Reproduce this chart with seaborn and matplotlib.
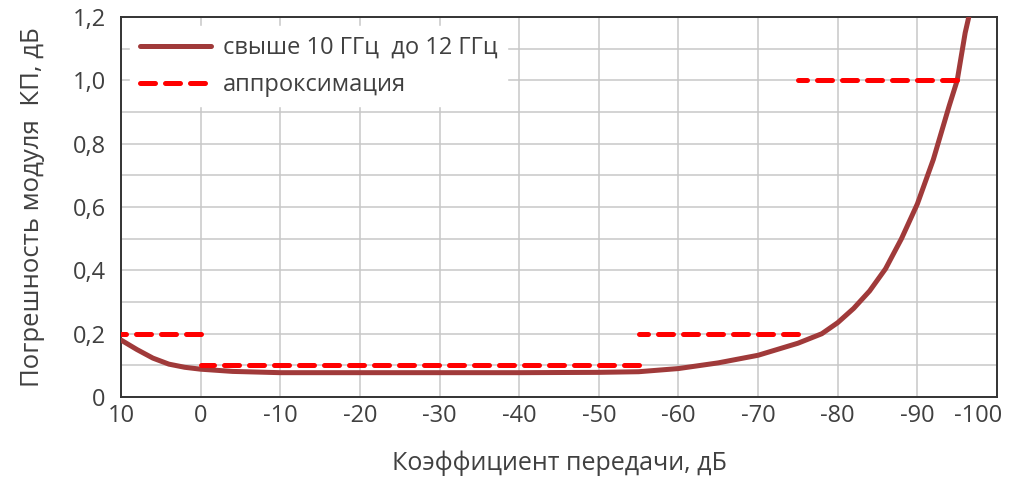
import matplotlib
matplotlib.use("Agg")
import matplotlib.pyplot as plt
import matplotlib.transforms as mtransforms
import seaborn as sns
import pandas as pd

# ----------------------- data -----------------------
GAIN_DB = [10, 8, 6, 4, 2, 0, -4, -10, -20, -30, -40, -50, -55, -60, -65, -70,
           -75, -78, -80, -82, -84, -86, -88, -90, -92, -94, -95, -96, -97]
ERROR_DB = [0.18, 0.15, 0.123, 0.104, 0.094, 0.088, 0.081, 0.077, 0.077, 0.077,
            0.077, 0.078, 0.08, 0.09, 0.108, 0.132, 0.17, 0.2, 0.235, 0.28,
            0.335, 0.405, 0.5, 0.61, 0.75, 0.92, 1.0, 1.15, 1.26]

# approximation: piecewise constant segments (start, end, level)
APPROX_START = [10, 0, -55, -75]
APPROX_END = [0, -55, -75, -95]
APPROX_LEVEL = [0.2, 0.1, 0.2, 1.0]

X_TICKS = [10, 0, -10, -20, -30, -40, -50, -60, -70, -80, -90, -100]
X_TICK_LABELS = ["10", "0", "-10", "-20", "-30", "-40", "-50", "-60", "-70",
                 "-80", "-90", "-100"]
Y_TICKS = [0, 0.2, 0.4, 0.6, 0.8, 1.0, 1.2]
Y_TICK_LABELS = ["0", "0,2", "0,4", "0,6", "0,8", "1,0", "1,2"]
Y_MINOR = [0.1, 0.3, 0.5, 0.7, 0.9, 1.1]

CURVE_LABEL = "свыше 10 ГГц  до 12 ГГц"
APPROX_LABEL = "аппроксимация"
X_LABEL = "Коэффициент передачи, дБ"
Y_LABEL = "Погрешность модуля  КП, дБ"
# ---------------------------------------------------------------------------

sns.set_theme(style="white")
plt.rcParams["font.family"] = ["Open Sans", "DejaVu Sans"]
TEXT = "#404040"


def main():
    fig = plt.figure(figsize=(10.12, 4.86), dpi=100)
    ax = fig.add_axes([0.1196, 0.183, 0.8656, 0.782])

    curve = pd.DataFrame({"gain": GAIN_DB, "err": ERROR_DB})
    sns.lineplot(data=curve, x="gain", y="err", color="#A03A3A", linewidth=3.6,
                 label=CURVE_LABEL, ax=ax, zorder=3)

    for i, (x0, x1, lev) in enumerate(zip(APPROX_START, APPROX_END, APPROX_LEVEL)):
        seg = pd.DataFrame({"gain": [x0, x1], "err": [lev, lev]})
        sns.lineplot(data=seg, x="gain", y="err", color="#FF0000", linewidth=3.6,
                     label=APPROX_LABEL if i == 0 else None, ax=ax, zorder=4)
        ax.lines[-1].set_dashes((3.0, 2.0))
        ax.lines[-1].set_dash_capstyle("round")

    ax.set_xlim(10, -100)
    ax.set_ylim(0, 1.2)
    ax.set_xticks(X_TICKS)
    ax.set_xticklabels(X_TICK_LABELS)
    ax.set_yticks(Y_TICKS)
    ax.set_yticklabels(Y_TICK_LABELS)
    ax.set_yticks(Y_MINOR, minor=True)

    ax.grid(True, which="both", color="#C8C8C8", linewidth=1.1)
    ax.set_axisbelow(True)
    ax.tick_params(axis="both", which="both", length=0, labelsize=17,
                   labelcolor=TEXT)
    ax.tick_params(axis="x", pad=5)
    ax.tick_params(axis="y", pad=11)
    # last x label sits inside the figure, like the original
    last = ax.get_xticklabels()[-1]
    last.set_horizontalalignment("right")
    last.set_transform(last.get_transform() +
                       mtransforms.ScaledTranslation(5 / 100, 0, fig.dpi_scale_trans))

    for s in ax.spines.values():
        s.set_color("#333333")
        s.set_linewidth(1.4)

    ax.set_xlabel(X_LABEL, fontsize=18, color=TEXT, labelpad=16)
    ax.set_ylabel(Y_LABEL, fontsize=18.5, color=TEXT, labelpad=20)

    leg = ax.legend(loc="upper left", fontsize=17, handlelength=3.0,
                    handletextpad=0.5, frameon=True, facecolor="white",
                    edgecolor="white", framealpha=1, fancybox=False,
                    borderaxespad=0.4, labelspacing=0.55)
    for t in leg.get_texts():
        t.set_color(TEXT)
    leg.get_lines()[1].set_dashes((3.0, 2.0))
    leg.get_lines()[1].set_dash_capstyle("round")

    fig.savefig("out.png", dpi=100)
    plt.close(fig)


if __name__ == "__main__":
    main()
